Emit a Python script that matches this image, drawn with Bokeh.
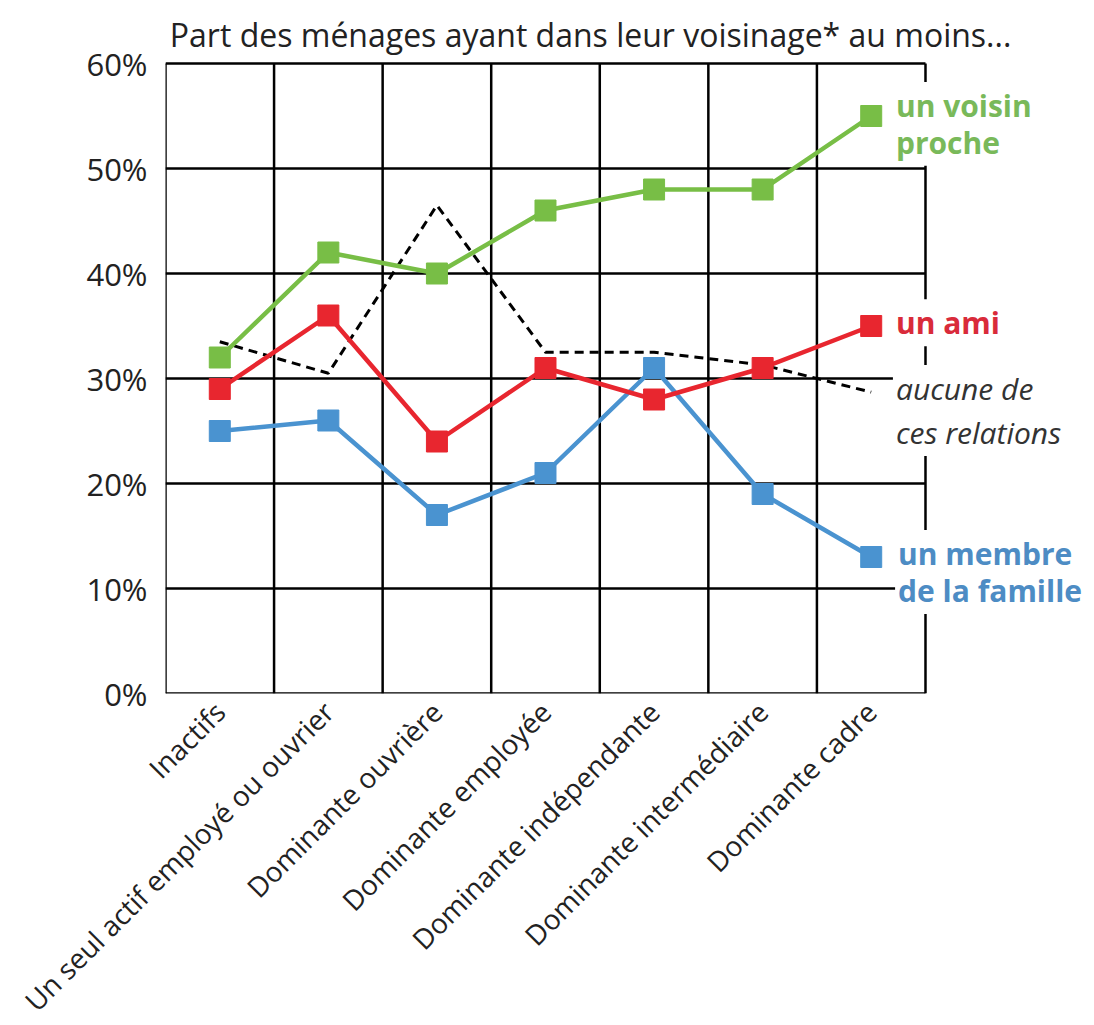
import math
from bokeh.plotting import figure
from bokeh.models import FixedTicker, PrintfTickFormatter, Label, Range1d
from bokeh.embed import file_html
from bokeh.resources import INLINE

categories = ["Inactifs", "Un seul actif employé ou ouvrier", "Dominante ouvrière",
              "Dominante employée", "Dominante indépendante", "Dominante intermédiaire",
              "Dominante cadre"]
voisin_proche = [32, 42, 40, 46, 48, 48, 55]
ami = [29, 36, 24, 31, 28, 31, 35]
membre_famille = [25, 26, 17, 21, 31, 19, 13]
aucune_relation = [33.5, 30.5, 46.5, 32.5, 32.5, 31.3, 28.7]
y_ticks = [0, 10, 20, 30, 40, 50, 60]

GREEN = "#78BE46"
RED = "#E8262F"
BLUE = "#4A93D0"
GREEN_T = "#79B95A"
RED_T = "#D92B3A"
BLUE_T = "#4D8CC4"
FONT = "Open Sans"

n = len(categories)
xs = [i + 0.5 for i in range(n)]
y_top = y_ticks[-1]

# The chart box spans x in [0, n] and y in [0, y_top]; the ranges extend past it
# so that the title and the right-hand labels fit inside the drawing area.
COL_PX = 108.57
PX_PER_UNIT_Y = 10.5
FRAME_W = 921
FRAME_H = 688
p = figure(output_backend="svg", toolbar_location=None,
           frame_width=FRAME_W, frame_height=FRAME_H,
           x_range=Range1d(0, FRAME_W / COL_PX), y_range=Range1d(0, FRAME_H / PX_PER_UNIT_Y),
           min_border_left=165, min_border_right=4,
           min_border_top=5, min_border_bottom=328)
p.background_fill_color = "white"
p.border_fill_color = "white"
p.outline_line_color = None
p.xgrid.visible = False
p.ygrid.visible = False

# grid + box drawn as segments in data space
vx = list(range(0, n + 1))
p.segment(x0=vx, y0=[0] * len(vx), x1=vx, y1=[y_top] * len(vx),
          line_color="black", line_width=2.5)
p.segment(x0=[0] * len(y_ticks), y0=y_ticks, x1=[n] * len(y_ticks), y1=y_ticks,
          line_color="black", line_width=2.5)

# y axis
ya = p.yaxis[0]
ya.ticker = FixedTicker(ticks=y_ticks)
ya.formatter = PrintfTickFormatter(format="%d%%")
ya.axis_line_color = None
ya.major_tick_line_color = None
ya.minor_tick_line_color = None
ya.major_label_standoff = 12
ya.major_label_text_font = FONT
ya.major_label_text_font_size = "31px"
ya.major_label_text_color = "#222222"

# x axis
xa = p.xaxis[0]
xa.ticker = FixedTicker(ticks=xs)
xa.major_label_overrides = {x: c for x, c in zip(xs, categories)}
xa.major_label_orientation = math.pi / 4
xa.axis_line_color = None
xa.major_tick_line_color = None
xa.minor_tick_line_color = None
xa.major_label_standoff = 7
xa.major_label_text_font = FONT
xa.major_label_text_font_size = "28px"
xa.major_label_text_color = "#222222"

# series
p.line(xs, aucune_relation, line_color="black", line_width=3, line_dash="9 6")
for vals, col in ((membre_famille, BLUE), (ami, RED), (voisin_proche, GREEN)):
    p.line(xs, vals, line_color=col, line_width=4.5)
    p.scatter(xs, vals, marker="square", size=21, fill_color=col, line_color=col)

# title
p.add_layout(Label(x=0.04, y=62.75, text="Part des ménages ayant dans leur voisinage* au moins...",
                   text_font=FONT, text_font_size="32px", text_color="#222222",
                   text_baseline="alphabetic"))

def lab(x, y, text, color, style="bold"):
    p.add_layout(Label(x=x, y=y, text=text, text_font=FONT, text_font_size="30px",
                       text_font_style=style, text_color=color, text_baseline="alphabetic",
                       background_fill_color="white", padding=3))

# second lines first, so that the first lines are drawn on top of them
lab(6.70, 52.5, "proche", GREEN_T)
lab(6.70, 56.0, "un voisin", GREEN_T)
lab(6.70, 35.3, "un ami", RED_T)
lab(6.70, 24.86, "ces relations", "#333333", "italic")
lab(6.70, 29.05, "aucune de", "#333333", "italic")
lab(6.72, 9.81, "de la famille", BLUE_T)
lab(6.72, 13.33, "un membre", BLUE_T)

open("out.html", "w").write(file_html(p, INLINE))
